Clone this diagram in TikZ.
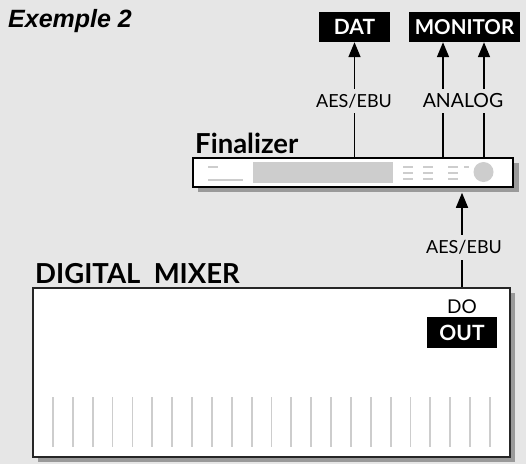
\documentclass[tikz,border=0pt]{standalone}
\usepackage{fontspec}
\setmainfont{Lato}
\newfontfamily\arialfont{Liberation Sans}
\usetikzlibrary{positioning, arrows.meta}
\definecolor{bggray}{HTML}{E6E6E6}
\definecolor{shadowgray}{HTML}{9A9A9A}
\definecolor{panelgray}{HTML}{CDCDCD}
\tikzset{
    blackbox/.style={fill=black, text=white, inner sep=0pt, minimum height=30pt,
        font=\bfseries\fontsize{21}{21}\selectfont}, % the black device boxes
    signal/.style={fill=bggray, inner xsep=2pt, inner ysep=5pt, font=\fontsize{18}{18}\selectfont}, % cable labels
    devtitle/.style={anchor=base west, inner sep=0pt, font=\bfseries\fontsize{27.5}{27.5}\selectfont},
    arrow/.style={line width=1.6pt, -{Triangle[width=12pt,length=15pt]}},
    fader/.style={panelgray, line width=1.8pt},
    knob/.style={panelgray, line width=1.8pt},
}

\begin{document}
\begin{tikzpicture}[x=1pt, y=-1pt]
    \fill[bggray] (0,0) rectangle (526,464);
    \useasboundingbox (0,0) rectangle (526,464);

    \node[anchor=base west, inner sep=0pt, font=\arialfont\bfseries\itshape\fontsize{25}{25}\selectfont] (title) at (8,27) {Exemple 2};

    % Appareils
    \node[blackbox, minimum width=71pt] (dat) at (354.5,27) {DAT};
    \node[blackbox, minimum width=111pt, font=\bfseries\fontsize{20.5}{20.5}\selectfont] (monitor) at (464.5,27) {MONITOR};

    % Finalizer
    \fill[shadowgray] (198,163) rectangle (519,192);
    \node[draw, line width=1.5pt, fill=white, minimum width=320pt, minimum height=29pt, inner sep=0pt] (fin) at (353,172.5) {};
    \node[devtitle] (fintitle) at (195,153) {Finalizer};
    \fill[panelgray] (253,162) rectangle (393,183);
    \draw[knob] (208,167) -- (218,167);
    \draw[knob] (208,180) -- (243,180);
    \foreach \x in {403,423,448}
        \foreach \y in {167,173,179}
            \draw[knob] (\x,\y) -- ++(10,0);
    \draw[knob] (464,167) -- (469,167);
    \fill[panelgray] (483.5,172) circle (10);

    % Digital mixer
    \fill[shadowgray] (38,293) rectangle (515,462);
    \node[draw=black!85, line width=1.8pt, fill=white, minimum width=477pt, minimum height=169pt, inner sep=0pt] (mixer) at (271.5,372.5) {};
    \node[devtitle] (mixtitle) at (35,283) {DIGITAL\ \ MIXER};
    \foreach \i in {0,...,22}
        \draw[fader] (53+\i*19.86,397) -- ++(0,50);
    \node[blackbox, minimum width=70pt, minimum height=31pt] (out) at (462,332.5) {OUT};
    \node[font=\fontsize{19}{19}\selectfont, inner sep=0pt] (do) at (462,307) {DO};

    % Liaisons
    \coordinate (anl) at (443,0);
    \coordinate (anr) at (484,0);
    \draw[arrow] (fin.north -| dat) -- (dat.south);
    \draw[arrow] (fin.north -| anl) -- (monitor.south -| anl);
    \draw[arrow] (fin.north -| anr) -- (monitor.south -| anr);
    \draw[arrow] (mixer.north -| out) -- ([yshift=-5pt]fin.south -| out);

    \node[signal] (aesdat) at (354,101) {AES/EBU};
    \node[signal, font=\fontsize{19.5}{19.5}\selectfont] (analog) at (463,101) {ANALOG};
    \node[signal] (aesmix) at (464,247.5) {AES/EBU};
\end{tikzpicture}
\end{document}
